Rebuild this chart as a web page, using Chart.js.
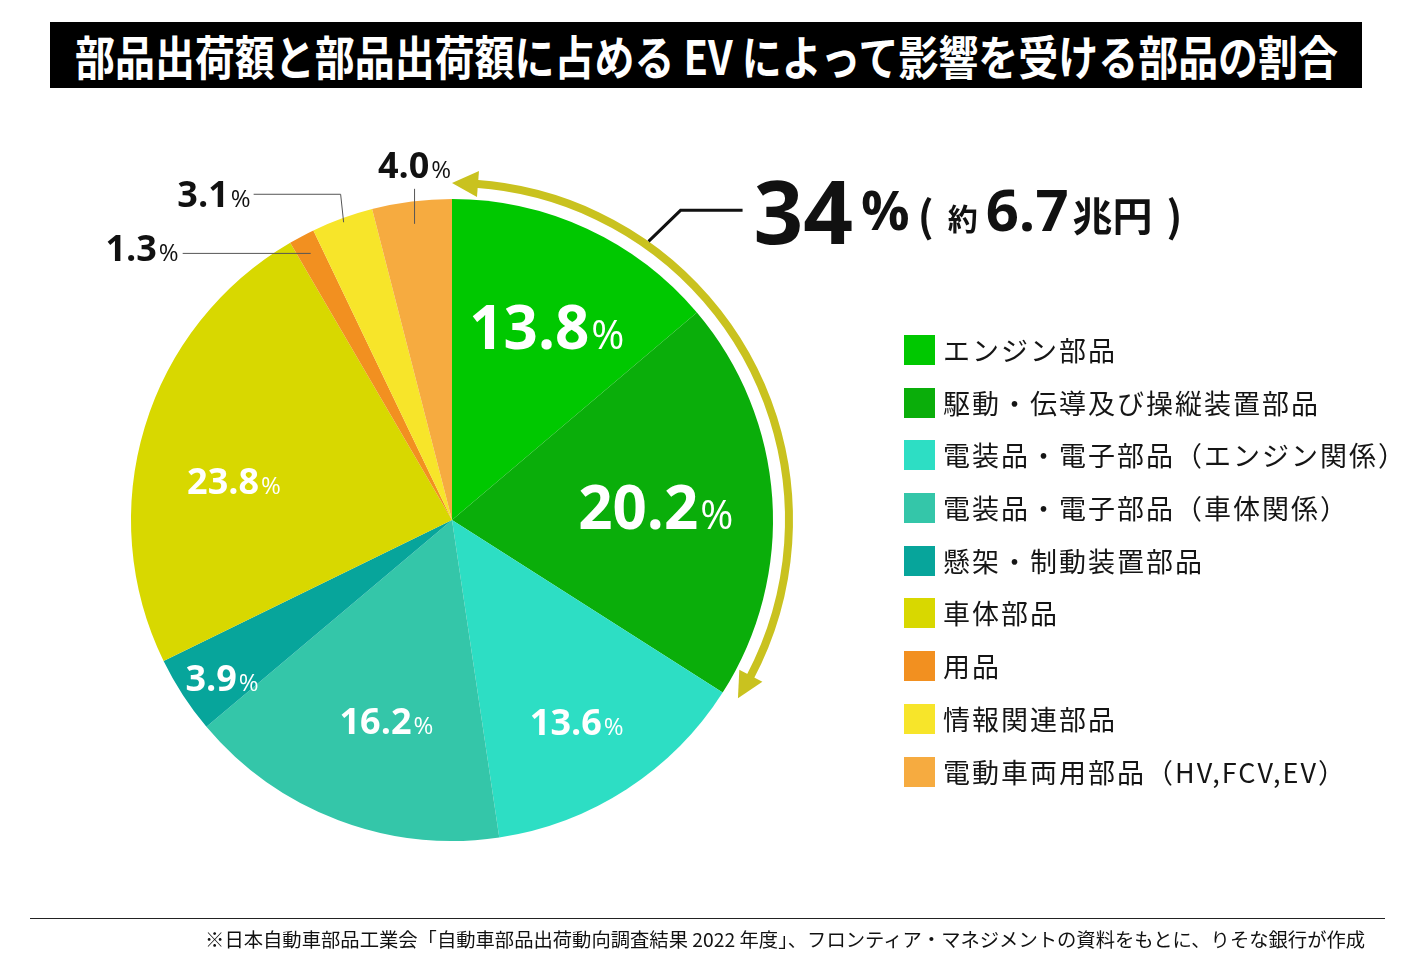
<!DOCTYPE html>
<html lang="ja">
<head>
<meta charset="utf-8">
<script src="https://cdn.jsdelivr.net/npm/chart.js@4/dist/chart.umd.min.js"></script>
<style>
  html,body{margin:0;padding:0;background:#fff;}
  body{width:1414px;height:968px;position:relative;overflow:hidden;font-family:"Noto Sans CJK JP","Noto Sans",sans-serif;}
  #titleBar{position:absolute;left:50px;top:22px;width:1312px;height:66px;background:#000;overflow:hidden;}
  #titleText{position:absolute;left:0;top:0;line-height:66px;height:66px;color:#fff;font-weight:700;font-size:47px;white-space:nowrap;transform-origin:0 50%;}
  #chartCanvas{position:absolute;left:0;top:0;}
  #legend{position:absolute;left:904px;top:335px;}
  .lg-row{height:52.7px;display:flex;align-items:flex-start;}
  .lg-box{width:31px;height:30px;flex:none;}
  .lg-text{margin-left:8px;font-size:27px;letter-spacing:2px;line-height:30px;color:#151515;white-space:nowrap;}
  #footLine{position:absolute;left:30px;top:918px;width:1355px;height:1px;background:#222;}
  #footText{position:absolute;top:926px;font-size:19px;line-height:26px;color:#111;white-space:nowrap;transform-origin:100% 50%;}
</style>
</head>
<body>
<div id="titleBar"><span id="titleText">部品出荷額と部品出荷額に占める EV によって影響を受ける部品の割合</span></div>
<canvas id="chartCanvas" width="1414" height="968"></canvas>
<div id="legend"></div>
<div id="footLine"></div>
<span id="footText">※日本自動車部品工業会「自動車部品出荷動向調査結果 2022 年度」、フロンティア・マネジメントの資料をもとに、りそな銀行が作成</span>
<script>
// ---- data ----
const categories = [
  "エンジン部品",
  "駆動・伝導及び操縦装置部品",
  "電装品・電子部品（エンジン関係）",
  "電装品・電子部品（車体関係）",
  "懸架・制動装置部品",
  "車体部品",
  "用品",
  "情報関連部品",
  "電動車両用部品（HV,FCV,EV）"
];
const shares = [13.8, 20.2, 13.6, 16.2, 3.9, 23.8, 1.3, 3.1, 4.0];
const sliceColors = ["#00c800", "#0aae0a", "#2ddec4", "#34c6a9", "#07a59b", "#d8d800", "#f29020", "#f7e52a", "#f6ab40"];
const evSliceCount = 2;           // first two slices are affected by EV
const evShareLabel = "34";
const evAmountNumber = "6.7";
const evAmountUnit = "兆円";

// ---- title / footer fitting ----
(function fit(){
  const t = document.getElementById('titleText');
  const w = t.getBoundingClientRect().width;
  const target = 1263;
  t.style.transform = 'scaleX(' + (target / w) + ')';
  t.style.left = ((1312 - target) / 2) + 'px';
  const f = document.getElementById('footText');
  const fw = f.getBoundingClientRect().width;
  const ft = 1160;
  f.style.transform = 'scaleX(' + (ft / fw) + ')';
  f.style.left = (1365 - fw) + 'px';
})();

// ---- legend ----
const lg = document.getElementById('legend');
categories.forEach((c, i) => {
  const row = document.createElement('div'); row.className = 'lg-row';
  const b = document.createElement('div'); b.className = 'lg-box'; b.style.background = sliceColors[i];
  const t = document.createElement('div'); t.className = 'lg-text'; t.textContent = c;
  row.appendChild(b); row.appendChild(t); lg.appendChild(row);
});

// ---- label styles (layout only) ----
const NUMF = '"Open Sans","Noto Sans",sans-serif';
const CJKF = '"Noto Sans CJK JP",sans-serif';
const inner = {
  0: {r: 0.67, shift: 1.3, size: 60, color: '#fff'},
  1: {r: 0.636, shift: 0.4, size: 60, color: '#fff'},
  2: {r: 0.74, shift: 1.3, size: 36, color: '#fff'},
  3: {r: 0.66, shift: -2.7, size: 36, color: '#fff'},
  4: {r: 0.87, shift: -1.5, size: 36, color: '#fff'},
  5: {r: 0.69, shift: -6.7, size: 36, color: '#fff'}
};
const outer = {
  6: {r: 0.94, kind: 'left', size: 36},
  7: {r: 0.987, kind: 'elbow', size: 36},
  8: {r: 0.93, kind: 'up', size: 36}
};

function pctWidth(ctx, txt, size){
  ctx.font = '700 ' + size + 'px ' + NUMF;
  const w1 = ctx.measureText(txt).width;
  ctx.font = '400 ' + Math.round(size * 0.66) + 'px ' + NUMF;
  const w2 = ctx.measureText('%').width;
  return [w1, w2];
}
function drawPct(ctx, txt, x, base, size, color){
  const [w1] = pctWidth(ctx, txt, size);
  ctx.fillStyle = color;
  ctx.textBaseline = 'alphabetic';
  ctx.textAlign = 'left';
  ctx.font = '700 ' + size + 'px ' + NUMF;
  ctx.fillText(txt, x, base);
  ctx.font = '400 ' + Math.round(size * 0.66) + 'px ' + NUMF;
  ctx.fillText('%', x + w1 + 2, base);
}

const labelPlugin = {
  id: 'labels',
  afterDatasetsDraw(chart){
    const ctx = chart.ctx;
    const arcs = chart.getDatasetMeta(0).data;
    const cx = arcs[0].x, cy = arcs[0].y, R = arcs[0].outerRadius;
    ctx.save();
    shares.forEach((v, i) => {
      const a = arcs[i];
      const txt = v.toFixed(1);
      if (inner[i]) {
        const s = inner[i];
        const mid = (a.startAngle + a.endAngle) / 2 + s.shift * Math.PI / 180;
        const px = cx + Math.cos(mid) * R * s.r;
        const py = cy + Math.sin(mid) * R * s.r;
        const [w1, w2] = pctWidth(ctx, txt, s.size);
        const tw = w1 + 2 + w2;
        drawPct(ctx, txt, px - tw / 2, py + s.size * 0.36, s.size, s.color);
      } else if (outer[i]) {
        const s = outer[i];
        const mid = (a.startAngle + a.endAngle) / 2;
        const ex = cx + Math.cos(mid) * R * s.r;
        const ey = cy + Math.sin(mid) * R * s.r;
        const [w1, w2] = pctWidth(ctx, txt, s.size);
        const tw = w1 + 2 + w2;
        ctx.strokeStyle = '#555';
        ctx.lineWidth = 1;
        ctx.beginPath();
        if (s.kind === 'up') {
          ctx.moveTo(ex, ey); ctx.lineTo(ex, ey - 35); ctx.stroke();
          drawPct(ctx, txt, ex - tw / 2, ey - 46, s.size, '#111');
        } else if (s.kind === 'elbow') {
          ctx.moveTo(ex, ey); ctx.lineTo(ex - 3, ey - 28); ctx.lineTo(ex - 90, ey - 28); ctx.stroke();
          drawPct(ctx, txt, ex - 93 - tw, ey - 28 + 13, s.size, '#111');
        } else {
          ctx.moveTo(ex, ey); ctx.lineTo(ex - 128, ey); ctx.stroke();
          drawPct(ctx, txt, ex - 132 - tw, ey + 8, s.size, '#111');
        }
      }
    });
    ctx.restore();
  }
};

const arrowPlugin = {
  id: 'evArrow',
  afterDatasetsDraw(chart){
    const ctx = chart.ctx;
    const arcs = chart.getDatasetMeta(0).data;
    const cx = arcs[0].x, cy = arcs[0].y, R = arcs[0].outerRadius;
    const r = R + 16;
    const a0 = arcs[0].startAngle;
    const a1 = arcs[evSliceCount - 1].endAngle - 0.01;
    const headL = 26, headW = 13;
    const da = headL / r;
    ctx.save();
    ctx.strokeStyle = '#c9c21f';
    ctx.fillStyle = '#c9c21f';
    ctx.lineWidth = 8;
    ctx.beginPath();
    ctx.arc(cx, cy, r, a0 + da * 0.9, a1 - da * 0.9);
    ctx.stroke();
    function head(theta, sign){
      const tx = cx + r * Math.cos(theta), ty = cy + r * Math.sin(theta);
      const bth = theta - sign * da;
      const bx = cx + r * Math.cos(bth), by = cy + r * Math.sin(bth);
      const nx = Math.cos(bth), ny = Math.sin(bth);
      ctx.beginPath();
      ctx.moveTo(tx, ty);
      ctx.lineTo(bx + nx * headW, by + ny * headW);
      ctx.lineTo(bx - nx * headW, by - ny * headW);
      ctx.closePath();
      ctx.fill();
    }
    head(a0, -1);
    head(a1, 1);
    // leader to 34%
    const la = a0 + 35.2 * Math.PI / 180;
    const sx = cx + (r + 4) * Math.cos(la), sy = cy + (r + 4) * Math.sin(la);
    ctx.strokeStyle = '#111';
    ctx.lineWidth = 3;
    ctx.beginPath();
    ctx.moveTo(sx, sy);
    ctx.lineTo(sx + 32, sy - 31);
    ctx.lineTo(sx + 94, sy - 31);
    ctx.stroke();
    // 34% ( 約 6.7兆円 )
    const x0 = sx + 105, base = sy + 3;
    ctx.fillStyle = '#111';
    ctx.textBaseline = 'alphabetic';
    ctx.textAlign = 'left';
    ctx.font = '700 87px ' + NUMF;
    ctx.fillText(evShareLabel, x0, base);
    const w34 = ctx.measureText(evShareLabel).width;
    let x = x0 + w34 + 8;
    ctx.font = '700 54px ' + NUMF;
    ctx.fillText('%', x, base - 14);
    x += ctx.measureText('%').width + 8;
    ctx.font = '700 42px ' + CJKF;
    ctx.fillText('(', x, base - 12);
    x += 30;
    ctx.font = '700 30px ' + CJKF;
    ctx.fillText('約', x, base - 14);
    x += 38;
    ctx.font = '700 58px ' + NUMF;
    ctx.fillText(evAmountNumber, x, base - 13);
    x += ctx.measureText(evAmountNumber).width + 4;
    ctx.font = '700 40px ' + CJKF;
    ctx.fillText(evAmountUnit, x, base - 13);
    x += ctx.measureText(evAmountUnit).width + 14;
    ctx.font = '700 42px ' + CJKF;
    ctx.fillText(')', x, base - 12);
    ctx.restore();
  }
};

new Chart(document.getElementById('chartCanvas'), {
  type: 'pie',
  data: {
    labels: categories,
    datasets: [{data: shares, backgroundColor: sliceColors, borderWidth: 0}]
  },
  options: {
    responsive: false,
    animation: false,
    devicePixelRatio: 1,
    layout: {padding: {left: 131, right: 641, top: 199, bottom: 127}},
    plugins: {legend: {display: false}, tooltip: {enabled: false}}
  },
  plugins: [labelPlugin, arrowPlugin]
});
</script>
</body>
</html>
